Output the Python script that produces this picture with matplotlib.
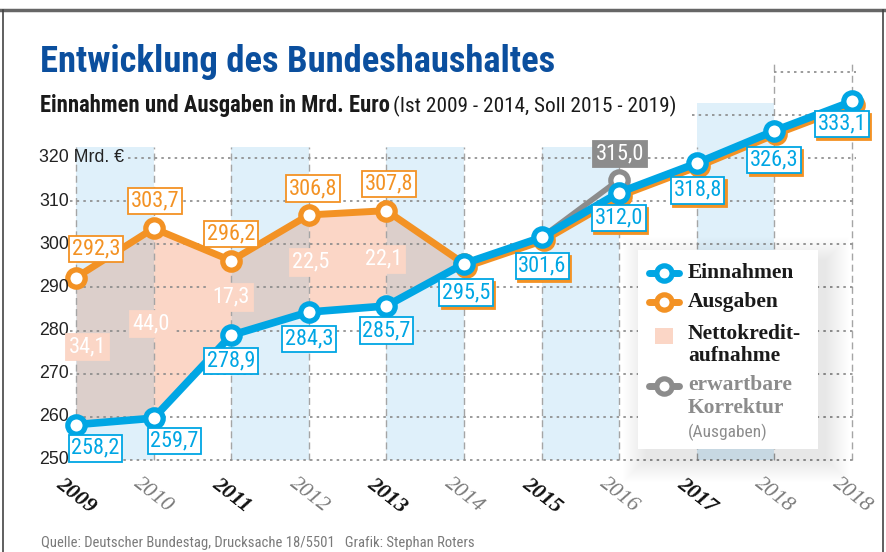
import matplotlib.pyplot as plt
import matplotlib.transforms as mtransforms
from matplotlib import font_manager as fm
from matplotlib.patches import Rectangle
import numpy as np

# Daten (Mrd. Euro)
jahre = ['2009', '2010', '2011', '2012', '2013', '2014', '2015', '2016', '2017', '2018', '2018']
einnahmen = [258.2, 259.7, 278.9, 284.3, 285.7, 295.5, 301.6, 312.0, 318.8, 326.3, 333.1]
ausgaben = [292.3, 303.7, 296.2, 306.8, 307.8, 295.5, 301.6, 312.0, 318.8, 326.3, 333.1]
netto = [34.1, 44.0, 17.3, 22.5, 22.1]
korrektur_x = [6, 7]
korrektur = [301.6, 315.0]
y_ticks = [250, 260, 270, 280, 290, 300, 310, 320]

BLAU = '#00a6e4'
ORANGE = '#f39224'
GRAU = '#8c8c8c'
BAND = '#dff0fa'
ROSA = '#fbd6c6'
ROSA_BAND = '#dccfcb'
TITEL = '#0b4f9e'

# schmale Schrift, falls vorhanden
installiert = {f.name for f in fm.fontManager.ttflist}
schmal = [n for n in ['Liberation Sans Narrow', 'Roboto Condensed', 'Open Sans Condensed',
                      'Noto Sans Condensed', 'Arial Narrow'] if n in installiert]
NUM = schmal[:1] + ['Liberation Sans', 'DejaVu Sans']
SANS = ['Liberation Sans', 'DejaVu Sans']
SERIF = ['Liberation Serif', 'DejaVu Serif']

W, H = 886, 552
fig = plt.figure(figsize=(W / 100, H / 100), dpi=100)

# Achse so legen, dass 2009 -> px 76, 2019 -> px 852, 250 -> px 460, 320 -> px 158
x0, x1 = -0.5, 10.4
y0, y1 = 247, 346
px_x = (852 - 76) / 10
px_y = (460 - 158) / 70
left = 76 + x0 * px_x
right = 76 + x1 * px_x
bottom = 460 + (250 - y0) * px_y
top = 460 - (y1 - 250) * px_y
ax = fig.add_axes([left / W, 1 - bottom / H, (right - left) / W, (bottom - top) / H])
ax.set_xlim(x0, x1)
ax.set_ylim(y0, y1)
ax.axis('off')

x = np.arange(len(jahre))

# blaue Hintergrundbänder
for i in [0, 2, 4, 6]:
    ax.fill_between([i, i + 1], 250, 322.5, color=BAND, lw=0, zorder=0)
ax.fill_between([8, 9], 250, 332.8, color=BAND, lw=0, zorder=0)

# Nettokreditaufnahme
for i in range(5):
    c = ROSA_BAND if i % 2 == 0 else ROSA
    ax.fill_between(x[i:i + 2], einnahmen[i:i + 2], ausgaben[i:i + 2], color=c, lw=0, zorder=1)

# Gitter
for i in range(len(jahre)):
    top_v = 342.5 if i >= 9 else 322.5
    ax.plot([i, i], [250, top_v], color='#a5a5a5', lw=1, dashes=(5, 3), zorder=2)
for yt in y_ticks:
    xs = 0.67 if yt == 320 else -0.08
    ax.plot([xs, 10.05], [yt, yt], color='#8a8a8a', lw=1.2, dashes=(1.5, 2.5), zorder=2)
ax.plot([7.94, 10.05], [330, 330], color='#8a8a8a', lw=1.2, dashes=(1.5, 2.5), zorder=2)
ax.plot([9.0, 10.05], [340, 340], color='#8a8a8a', lw=1.2, dashes=(1.5, 2.5), zorder=2)

# y-Beschriftung
for yt in y_ticks:
    s = f'{yt} Mrd. €' if yt == 320 else str(yt)
    ax.text(-0.475, yt, s, ha='left', va='center', fontsize=12.8, color='#222222',
            family=SANS, zorder=5)

# x-Beschriftung
for i, j in enumerate(jahre):
    schwarz = i % 2 == 0 and i < 9
    ax.text(i, 241.8, j, ha='center', va='center', rotation=-38, rotation_mode='anchor',
            fontsize=16, style='italic', family=SERIF,
            weight='bold' if schwarz else 'normal',
            color='#111111' if schwarz else '#7a7a7a', clip_on=False)

mk = dict(marker='o', markersize=12.5, markerfacecolor='white', markeredgewidth=3.8)
shadow = mtransforms.offset_copy(ax.transData, fig=fig, x=1.5, y=-2.2, units='points')

# erwartbare Korrektur
ax.plot(korrektur_x, korrektur, color=GRAU, lw=4, zorder=3)
ax.plot(korrektur_x[1:], korrektur[1:], color=GRAU, markeredgecolor=GRAU, zorder=3, **mk)

# Ausgaben
ax.plot(x[:6], ausgaben[:6], color=ORANGE, lw=5, solid_capstyle='round',
        markeredgecolor=ORANGE, zorder=4, **mk)
ax.plot(x[5:], ausgaben[5:], color=ORANGE, lw=5, transform=shadow,
        markeredgecolor=ORANGE, zorder=4, **mk)

# Einnahmen
ax.plot(x, einnahmen, color=BLAU, lw=5.5, markeredgecolor=BLAU, zorder=5, **mk)

LABEL_FS = 16 if schmal else 13.5


def box_label(xp, yp, s, tc, fc, ec, schatten=None):
    kw = dict(ha='center', va='center', fontsize=LABEL_FS, family=NUM, zorder=6)
    if schatten:
        ax.text(xp, yp, s, color=schatten, transform=shadow,
                bbox=dict(boxstyle='square,pad=0.12', fc=schatten, ec=schatten, lw=1.3), **kw)
    ax.text(xp, yp, s, color=tc,
            bbox=dict(boxstyle='square,pad=0.12', fc=fc, ec=ec, lw=1.3), **kw)


def fmt(v):
    return f'{v:.1f}'.replace('.', ',')


aus_off = [(0.26, 6.6), (0.02, 6.3), (0.0, 6.2), (0.05, 6.1), (0.03, 6.1)]
for i, (dx, dy) in enumerate(aus_off):
    box_label(i + dx, ausgaben[i] + dy, fmt(ausgaben[i]), ORANGE, 'white', ORANGE)

ein_off = [(0.25, -5.5), (0.27, -5.3), (0.0, -5.9), (0.0, -6.3), (0.0, -5.7),
           (0.03, -6.7), (0.01, -6.6), (0.0, -5.9), (0.01, -6.3), (0.0, -6.7), (-0.13, -5.2)]
for i, (dx, dy) in enumerate(ein_off):
    box_label(i + dx, einnahmen[i] + dy, fmt(einnahmen[i]), BLAU, 'white', BLAU,
              schatten=ORANGE if i >= 5 else None)

netto_pos = [(0.15, 276.2), (0.97, 281.5), (2.0, 287.7), (3.03, 295.8), (3.97, 296.5)]
for v, (xp, yp) in zip(netto, netto_pos):
    box_label(xp, yp, fmt(v), 'white', ROSA, ROSA)

box_label(7.01, 321.0, fmt(korrektur[1]), 'white', GRAU, GRAU)

# Overlay in Pixelkoordinaten für Titel, Legende, Rahmen
ov = fig.add_axes([0, 0, 1, 1], zorder=10)
ov.set_xlim(0, W)
ov.set_ylim(H, 0)
ov.axis('off')

ov.plot([0, W], [10, 10], color='#666666', lw=2.5)
ov.plot([3, 3], [10, H], color='#444444', lw=1.2)
ov.plot([883, 883], [10, H], color='#444444', lw=1.2)

renderer = fig.canvas.get_renderer()


def fit(t, breite):
    # Schriftgröße so anpassen, dass der Text die Breite aus der Vorlage hat
    w = t.get_window_extent(renderer).width
    t.set_fontsize(t.get_fontsize() * breite / w)


titel = ov.text(40, 72, 'Entwicklung des Bundeshaushaltes', fontsize=26, weight='bold',
                color=TITEL, family=NUM, va='baseline')
fit(titel, 516)
sub1 = ov.text(40, 112, 'Einnahmen und Ausgaben in Mrd. Euro', fontsize=15, weight='bold',
               color='#1a1a1a', family=NUM, va='baseline')
fit(sub1, 350)
sub2 = ov.text(393, 112, '(Ist 2009 - 2014, Soll 2015 - 2019)', fontsize=15,
               color='#1a1a1a', family=NUM, va='baseline')
fit(sub2, 282)
quelle = ov.text(41, 543, 'Quelle: Deutscher Bundestag, Drucksache 18/5501   Grafik: Stephan Roters',
                 fontsize=10.5, color='#7a7a7a', family=NUM, va='center')
fit(quelle, 436)

# Legende mit weichem Schatten
for k in range(24):
    ov.add_patch(Rectangle((638 + 8 - k, 250 + 10 - k), 180 + 2 * k, 199 + 2 * k,
                           fc='black', ec='none', alpha=0.005))
ov.add_patch(Rectangle((638, 250), 180, 199, fc='white', ec='none'))

leg = [(273, BLAU, 'Einnahmen'), (302, ORANGE, 'Ausgaben')]
for yy, c, s in leg:
    ov.plot([649, 679], [yy, yy], color=c, lw=5, solid_capstyle='round')
    ov.plot([664], [yy], color=c, markeredgecolor=c, **dict(mk, markersize=11))
    ov.text(688, yy, s, fontsize=15.5, weight='bold', family=SERIF, color='#1a1a1a', va='center')
ov.add_patch(Rectangle((655, 328), 18, 16, fc=ROSA, ec='none'))
ov.text(688, 334, 'Nettokredit-', fontsize=15.5, weight='bold', family=SERIF, color='#1a1a1a', va='center')
ov.text(688, 356, 'aufnahme', fontsize=15.5, weight='bold', family=SERIF, color='#1a1a1a', va='center')
ov.plot([649, 679], [386, 386], color=GRAU, lw=5, solid_capstyle='round')
ov.plot([664], [386], color=GRAU, markeredgecolor=GRAU, **dict(mk, markersize=11))
ov.text(688, 385, 'erwartbare', fontsize=15.5, weight='bold', family=SERIF, color=GRAU, va='center')
ov.text(688, 408, 'Korrektur', fontsize=15.5, weight='bold', family=SERIF, color=GRAU, va='center')
ov.text(688, 432, '(Ausgaben)', fontsize=12.5, family=NUM, color=GRAU, va='center')

fig.savefig('out.png', dpi=100)
